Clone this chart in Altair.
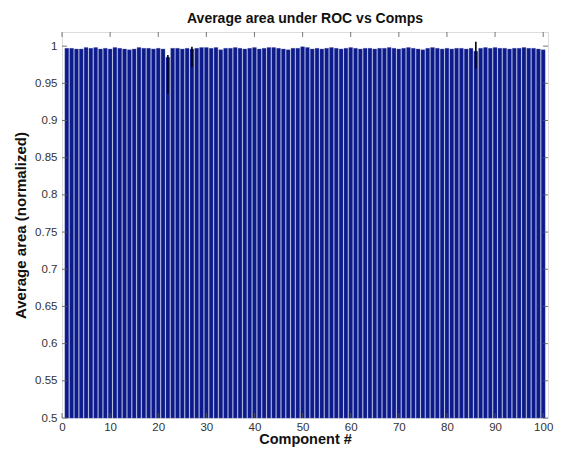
import altair as alt
import pandas as pd

components = list(range(1, 101))
auc = [
    0.997, 0.997, 0.996, 0.996, 0.998, 0.997, 0.998, 0.996, 0.997, 0.996,
    0.998, 0.997, 0.996, 0.995, 0.996, 0.998, 0.997, 0.997, 0.996, 0.997,
    0.996, 0.985, 0.997, 0.997, 0.996, 0.997, 0.996, 0.997, 0.998, 0.998,
    0.997, 0.998, 0.995, 0.997, 0.997, 0.998, 0.997, 0.996, 0.997, 0.998,
    0.996, 0.997, 0.998, 0.998, 0.997, 0.996, 0.995, 0.997, 0.997, 0.999,
    0.998, 0.996, 0.997, 0.996, 0.997, 0.998, 0.997, 0.996, 0.997, 0.998,
    0.997, 0.996, 0.997, 0.997, 0.996, 0.997, 0.997, 0.998, 0.997, 0.996,
    0.997, 0.998, 0.997, 0.996, 0.995, 0.997, 0.998, 0.997, 0.996, 0.997,
    0.996, 0.997, 0.997, 0.996, 0.997, 0.993, 0.997, 0.998, 0.997, 0.998,
    0.997, 0.997, 0.996, 0.997, 0.997, 0.998, 0.997, 0.997, 0.996, 0.995,
]
err_comp = [22, 27, 86]
err_low = [0.936, 0.972, 0.970]
err_high = [0.988, 0.999, 1.006]
x_ticks = list(range(0, 101, 10))
y_ticks = [0.5, 0.55, 0.6, 0.65, 0.7, 0.75, 0.8, 0.85, 0.9, 0.95, 1.0]

W, H = 486, 386
bars = pd.DataFrame({"c": components, "v": auc})
bars["x1"] = bars["c"] - 0.4
bars["x2"] = bars["c"] + 0.4
errs = pd.DataFrame({"c": err_comp, "lo": err_low, "hi": err_high})
xt = pd.DataFrame({"t": x_ticks})
yt = pd.DataFrame({"t": y_ticks})

font = "Liberation Sans"
xscale = alt.Scale(domain=[0, 101], nice=False, zero=False)
yscale = alt.Scale(domain=[0.5, 1.019], nice=False, zero=False)

xaxis = alt.Axis(values=x_ticks, title="Component #", tickSize=0, labelPadding=3,
                 grid=False, domain=False, labelFont=font, labelFontSize=11.5,
                 labelColor="#333", labelOverlap=False, labelFlush=False,
                 titleFont=font, titleFontSize=14.5,
                 titleFontWeight="bold", titleColor="#111", titlePadding=0)
yaxis = alt.Axis(values=y_ticks, format="~g", title="Average area (normalized)",
                 tickSize=0, labelPadding=5, grid=False, domain=False,
                 labelOverlap=False, labelFlush=False, labelFont=font,
                 labelFontSize=11.5, labelColor="#333",
                 titleFont=font, titleFontSize=15, titleFontWeight="bold",
                 titleColor="#111", titlePadding=6)

base_bar = alt.Chart(bars).mark_rect(color="#0c1a8a", stroke="#4a56b0", strokeWidth=0.4).encode(
    x=alt.X("x1:Q", scale=xscale, axis=xaxis),
    x2="x2:Q",
    y=alt.Y("v:Q", scale=yscale, axis=yaxis),
    y2=alt.datum(0.5),
)

err = alt.Chart(errs).mark_rule(color="black", strokeWidth=1.6).encode(
    x=alt.X("c:Q", scale=xscale, axis=xaxis),
    y=alt.Y("lo:Q", scale=yscale, axis=yaxis), y2="hi:Q")

xb = alt.Chart(xt).mark_rule(color="#555", strokeWidth=0.8).encode(
    x=alt.X("t:Q", scale=xscale, axis=xaxis), y=alt.value(H), y2=alt.value(H - 5))
xtop = alt.Chart(xt).mark_rule(color="#555", strokeWidth=0.8).encode(
    x=alt.X("t:Q", scale=xscale, axis=xaxis), y=alt.value(0), y2=alt.value(5))
yl = alt.Chart(yt).mark_rule(color="#555", strokeWidth=0.8).encode(
    y=alt.Y("t:Q", scale=yscale, axis=yaxis), x=alt.value(0), x2=alt.value(5))
yr = alt.Chart(yt).mark_rule(color="#555", strokeWidth=0.8).encode(
    y=alt.Y("t:Q", scale=yscale, axis=yaxis), x=alt.value(W), x2=alt.value(W - 5))

chart = alt.layer(base_bar, err, xb, xtop, yl, yr).properties(
    width=W, height=H,
    title=alt.Title("Average area under ROC vs Comps", font=font, fontSize=14,
                    fontWeight="bold", color="#111", offset=6),
    padding={"left": 54, "top": 24, "right": 6, "bottom": 30},
    autosize=alt.AutoSizeParams(type="none"),
).configure_view(stroke="#666", strokeWidth=1).configure(background="white")

chart.save("out.html", embed_options={"renderer": "svg", "actions": False})
